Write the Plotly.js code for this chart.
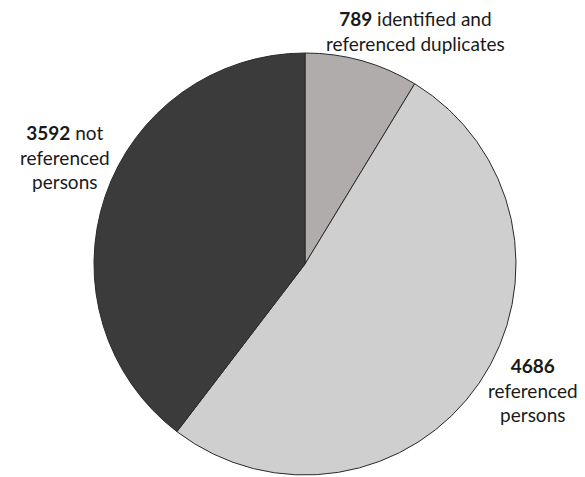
<!DOCTYPE html>
<html><head><meta charset="utf-8">
<script src="https://cdn.plot.ly/plotly-3.0.1.min.js"></script>
<style>html,body{margin:0;padding:0;background:#fff}</style>
</head><body>
<div id="chart" style="width:585px;height:477px"></div>
<script>
const categories = ["identified and referenced duplicates", "referenced persons", "not referenced persons"];
const values = [789, 4686, 3592];
const colors = ["#afacab", "#d0cfd0", "#3b3b3b"];
const labelTexts = [
  "<b>789</b> identified and<br>referenced duplicates",
  "<b>4686</b><br>referenced<br>persons",
  "<b>3592</b> not<br>referenced<br>persons"
];
const labelPos = [[415, 31], [533, 390], [65, 157]];

const font = {family: "Lato, 'Open Sans', sans-serif", size: 19, color: "#1a1a1a"};
const W = 585, H = 477;
const annotations = labelTexts.map((t, i) => ({
  text: t, showarrow: false, xref: "paper", yref: "paper",
  x: labelPos[i][0] / W, y: 1 - labelPos[i][1] / H,
  xanchor: "center", yanchor: "middle", align: "center", font: font
}));

Plotly.newPlot("chart", [{
  type: "pie", labels: categories, values: values, sort: false,
  direction: "clockwise", rotation: 0, textinfo: "none", hoverinfo: "none",
  marker: {colors: colors, line: {color: "#2a2a2a", width: 1}},
  domain: {x: [94 / W, 516 / W], y: [(H - 475) / H, (H - 53) / H]}
}], {
  width: W, height: H, margin: {l: 0, r: 0, t: 0, b: 0},
  showlegend: false, paper_bgcolor: "#fff", annotations: annotations
}, {staticPlot: true});
</script>
</body></html>
